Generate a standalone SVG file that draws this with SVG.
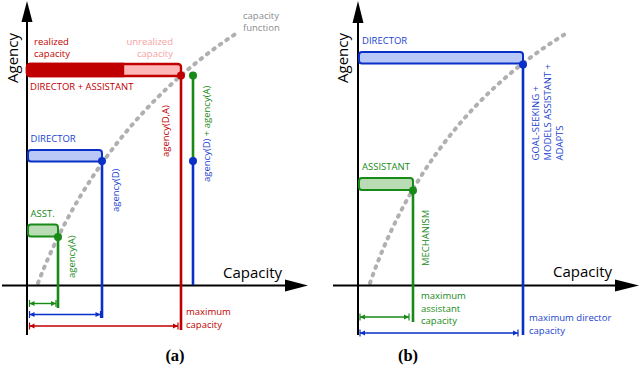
<svg xmlns="http://www.w3.org/2000/svg" width="640" height="381" viewBox="0 0 640 381">
<style>
text{font-family:"Open Sans","DejaVu Sans",sans-serif;font-size:9.5px}
.ax{stroke:#000;stroke-width:2;fill:none}
.axh{fill:#000}
.big{font-size:15px;fill:#000}
.cap{font-family:"Liberation Serif",serif;font-weight:bold;font-size:16.5px;fill:#000}
.cf{fill:none;stroke:#b0b0b0;stroke-width:4;stroke-linecap:round;stroke-dasharray:1.6 6.4}
.r{stroke:#c00000}.b{stroke:#0a30c8}.g{stroke:#178a17}
.tr{fill:#c00000}.tb{fill:#1a3fd0}.tg{fill:#178a17}.tp{fill:#f4a3a3}.tgr{fill:#8c8c8c}
.v{stroke-width:2.6;fill:none}
.d{stroke-width:1.4;fill:none}
.dr{fill:#c00000}.db{fill:#0a30c8}.dg{fill:#178a17}
</style>
<defs>
<marker id="mr" viewBox="-6 -4 8 8" refX="0" refY="0" markerWidth="8" markerHeight="8" markerUnits="userSpaceOnUse" orient="auto-start-reverse"><path d="M0,-3.5V3.5" stroke="#c00000" stroke-width="1.2"/><path d="M0,0L-5,-2.5L-5,2.5Z" fill="#c00000"/></marker>
<marker id="mb" viewBox="-6 -4 8 8" refX="0" refY="0" markerWidth="8" markerHeight="8" markerUnits="userSpaceOnUse" orient="auto-start-reverse"><path d="M0,-3.5V3.5" stroke="#0a30c8" stroke-width="1.2"/><path d="M0,0L-5,-2.5L-5,2.5Z" fill="#0a30c8"/></marker>
<marker id="mg" viewBox="-6 -4 8 8" refX="0" refY="0" markerWidth="8" markerHeight="8" markerUnits="userSpaceOnUse" orient="auto-start-reverse"><path d="M0,-3.5V3.5" stroke="#178a17" stroke-width="1.2"/><path d="M0,0L-5,-2.5L-5,2.5Z" fill="#178a17"/></marker>
</defs>

<!-- Panel (a) -->
<g id="a-function">
<path class="cf" d="M38,283 C88,153 172,75.25 237,33"/>
<text class="tgr" x="243" y="18.5">capacity</text>
<text class="tgr" x="243" y="31">function</text>
</g>
<g id="a-axes">
<line class="ax" x1="27" y1="20" x2="27" y2="335"/>
<polygon class="axh" points="27,1 21.5,22 32.5,22"/>
<line class="ax" x1="2" y1="285.5" x2="287" y2="285.5"/>
<polygon class="axh" points="308,285.5 285,279.5 285,291.5"/>
<text class="big" transform="translate(17.5,83) rotate(-90)">Agency</text>
<text class="big" x="223" y="278">Capacity</text>
</g>
<g id="a-connectors">
<line class="v r" x1="181" y1="75" x2="181" y2="330"/>
<line class="v g" x1="193" y1="75" x2="193" y2="161"/>
<line class="v b" x1="193" y1="161" x2="193" y2="285"/>
<line class="v b" x1="102" y1="161" x2="102" y2="318"/>
<line class="v g" x1="58" y1="237" x2="58" y2="308"/>
<line class="d g" x1="29.5" y1="303.5" x2="56" y2="303.5" marker-start="url(#mg)" marker-end="url(#mg)"/>
<line class="d b" x1="29.5" y1="314.5" x2="100.5" y2="314.5" marker-start="url(#mb)" marker-end="url(#mb)"/>
<line class="d r" x1="29.5" y1="326" x2="178" y2="326" marker-start="url(#mr)" marker-end="url(#mr)"/>
</g>
<g id="a-director-assistant">
<rect x="27" y="64" width="154" height="12" rx="3" fill="#ffb6b6" stroke="#c00000" stroke-width="2.4"/>
<path d="M30,64H123V76H30A3,3 0 0 1 27,73V67A3,3 0 0 1 30,64Z" fill="#c00000" stroke="#c00000" stroke-width="2.4"/>
<circle cx="181" cy="75.5" r="4" class="dr"/>
<circle cx="193" cy="75.5" r="4" class="dg"/>
<text class="tr" x="34" y="45">realized</text>
<text class="tr" x="34" y="57">capacity</text>
<text class="tp" x="173" y="45" text-anchor="end">unrealized</text>
<text class="tp" x="173" y="57" text-anchor="end">capacity</text>
<text class="tr" x="30" y="89.5">DIRECTOR + ASSISTANT</text>
<text class="tr" transform="translate(168.5,157) rotate(-90)">agency(D,A)</text>
<text transform="translate(209.5,182) rotate(-90)"><tspan class="tb">agency(D) </tspan><tspan class="tg">+ agency(A)</tspan></text>
<circle cx="193" cy="161" r="4" class="db"/>
</g>
<g id="a-director">
<rect x="28" y="150" width="74" height="11.5" rx="3" fill="#b9c8f6" stroke="#0a30c8" stroke-width="2"/>
<circle cx="102" cy="161" r="4" class="db"/>
<text class="tb" x="30.5" y="141.5">DIRECTOR</text>
<text class="tb" transform="translate(118.5,212) rotate(-90)">agency(D)</text>
</g>
<g id="a-assistant">
<rect x="28" y="224.5" width="30" height="12" rx="3" fill="#badcb4" stroke="#178a17" stroke-width="2"/>
<circle cx="58" cy="237" r="4" class="dg"/>
<text class="tg" x="30.5" y="217">ASST.</text>
<text class="tg" transform="translate(74.5,278) rotate(-90)">agency(A)</text>
</g>
<g id="a-max">
<text class="tr" x="186" y="315">maximum</text>
<text class="tr" x="186" y="327.5">capacity</text>
</g>
<text class="cap" x="175" y="360.5" text-anchor="middle">(a)</text>

<!-- Panel (b) -->
<g id="b-function">
<path class="cf" d="M370,283 C418,145 502,72 567,33"/>
</g>
<g id="b-axes">
<line class="ax" x1="358" y1="20" x2="358" y2="335"/>
<polygon class="axh" points="358,1 352.5,23 363.5,23"/>
<line class="ax" x1="333" y1="285.5" x2="617" y2="285.5"/>
<polygon class="axh" points="639,285.5 615,279.5 615,291.5"/>
<text class="big" transform="translate(348,83) rotate(-90)">Agency</text>
<text class="big" x="553" y="277">Capacity</text>
</g>
<g id="b-connectors">
<line class="v b" x1="523" y1="64" x2="523" y2="335"/>
<line class="v g" x1="413" y1="190" x2="413" y2="322"/>
<line class="d g" x1="360" y1="317" x2="409" y2="317" marker-start="url(#mg)" marker-end="url(#mg)"/>
<line class="d b" x1="360" y1="333" x2="518" y2="333" marker-start="url(#mb)" marker-end="url(#mb)"/>
</g>
<g id="b-director">
<rect x="359" y="52" width="164" height="11.5" rx="3" fill="#b9c8f6" stroke="#0a30c8" stroke-width="2"/>
<circle cx="523" cy="64.5" r="4" class="db"/>
<text class="tb" x="362" y="44">DIRECTOR</text>
<text class="tb" transform="translate(538.5,160.5) rotate(-90)">GOAL-SEEKING +</text>
<text class="tb" transform="translate(551,160.5) rotate(-90)">MODELS ASSISTANT +</text>
<text class="tb" transform="translate(563.3,160.5) rotate(-90)">ADAPTS</text>
<text class="tb" x="529" y="321">maximum director</text>
<text class="tb" x="529" y="333.5">capacity</text>
</g>
<g id="b-assistant">
<rect x="359" y="178" width="54" height="12" rx="3" fill="#badcb4" stroke="#178a17" stroke-width="2"/>
<circle cx="413" cy="190.5" r="4" class="dg"/>
<text class="tg" x="362" y="170">ASSISTANT</text>
<text class="tg" transform="translate(429,266) rotate(-90)">MECHANISM</text>
<text class="tg" x="421" y="299">maximum</text>
<text class="tg" x="421" y="311.5">assistant</text>
<text class="tg" x="421" y="324">capacity</text>
</g>
<text class="cap" x="408" y="360.5" text-anchor="middle">(b)</text>
</svg>
